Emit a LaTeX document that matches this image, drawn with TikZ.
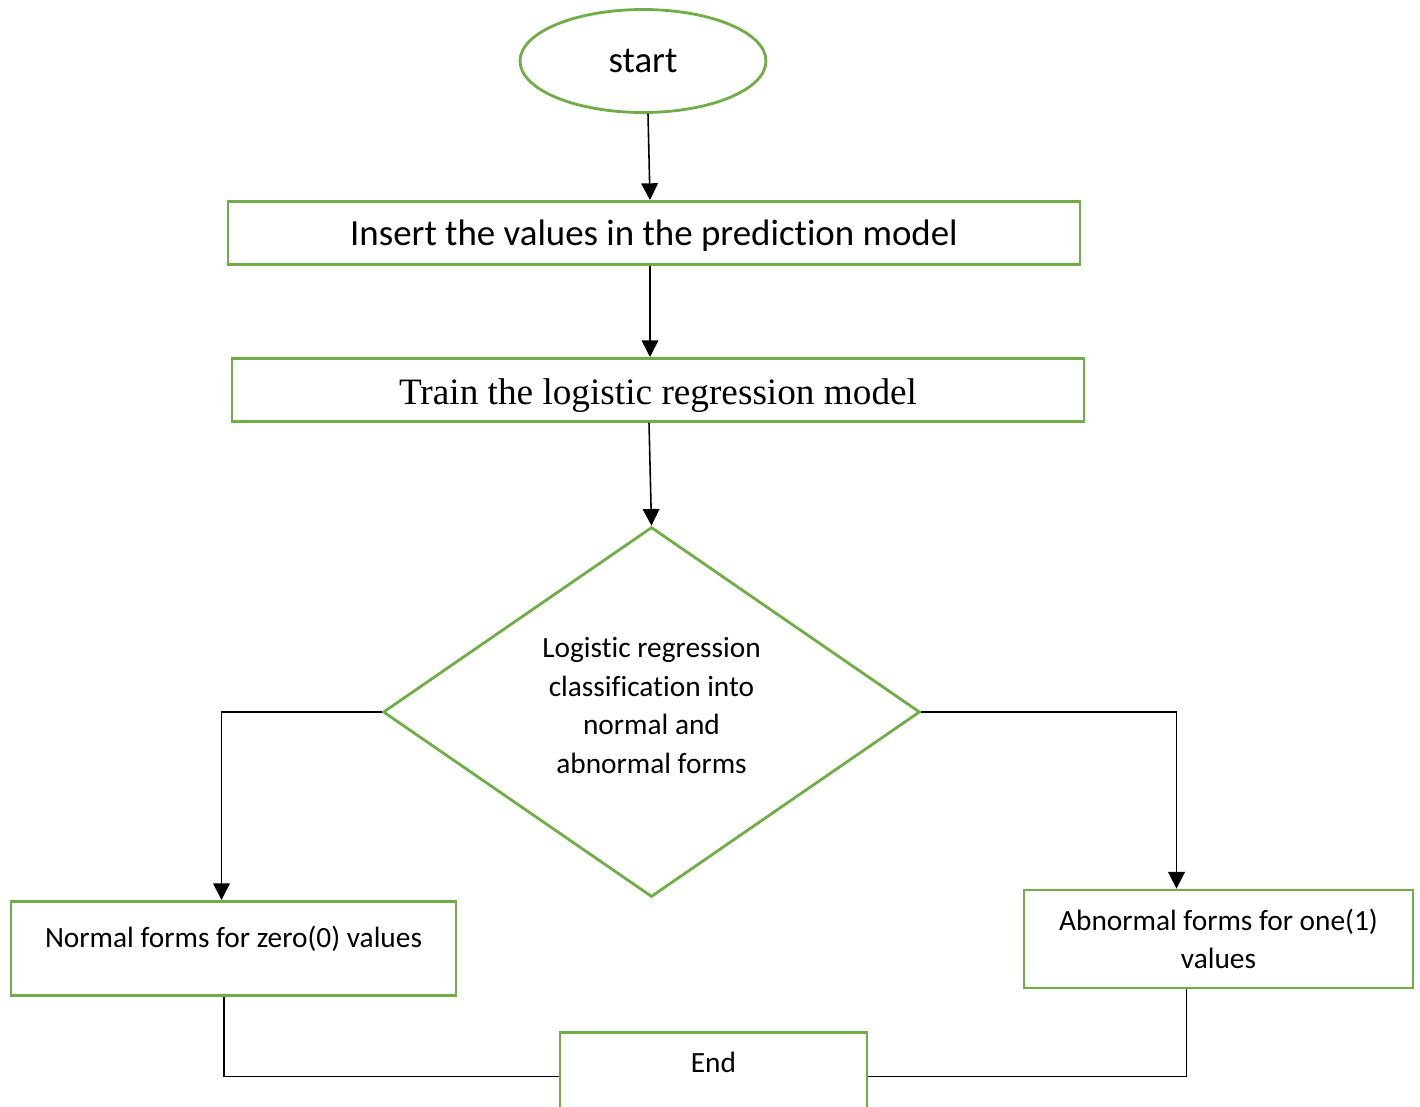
\documentclass[tikz,border=0pt]{standalone}
\usepackage{fontspec}
\setmainfont[Ligatures=NoCommon]{Carlito}
\newfontfamily\timesfont{Liberation Serif}
\usetikzlibrary{shapes.geometric,arrows.meta,calc}
\definecolor{flowgreen}{RGB}{112,173,71}

\begin{document}
\begin{tikzpicture}[x=0.02cm,y=-0.02cm,
  box/.style={draw=flowgreen,line width=1.6pt,inner sep=0pt,align=center},
  big/.style={font=\fontsize{21}{25}\selectfont},
  small/.style={font=\fontsize{16.7}{21.9}\selectfont},
  arr/.style={-{Triangle[width=9.5pt,length=9.5pt]},line width=0.9pt},
  con/.style={line width=0.9pt}]
	\clip (0,0) rectangle (1420,1106);

	\node[box,big,ellipse,minimum width=4.92cm,minimum height=2.06cm] (start) at (643,61) {start};
	\node[box,big,anchor=north,minimum width=17.04cm,text height=0.88cm,text depth=0.38cm] (ins) at (654,200) {Insert the values in the prediction model};
	\node[box,font=\timesfont\fontsize{21.2}{25}\selectfont,anchor=north,minimum width=17.04cm,text height=0.92cm,text depth=0.34cm] (trn) at (658,357) {Train the logistic regression model};
	\node[box,small,diamond,minimum width=10.74cm,minimum height=7.4cm,text height=2.68cm,text depth=0.24cm] (dia) at (651.5,712) {\begin{tabular}[b]{@{}c@{}}Logistic regression\\classification into\\normal and\\abnormal forms\end{tabular}};
	\node[box,small,anchor=north,minimum width=8.9cm,text height=0.92cm,text depth=0.96cm] (nrm) at (233.5,900) {Normal forms for zero(0) values};
	\node[box,small,minimum width=7.78cm,minimum height=1.96cm] (abn) at (1218.5,939) {Abnormal forms for one(1)\\values};
	\node[box,small,anchor=north,minimum width=6.14cm,text height=0.8cm,text depth=0.96cm] (endb) at (713.5,1031) {End};

	\draw[arr] ([shift={(5,0)}]start.south) -- ([shift={(-4,0)}]ins.north);
	\draw[arr] ([shift={(-4,0)}]ins.south) -- ([shift={(-8,0)}]trn.north);
	\draw[arr] ([shift={(-9,0)}]trn.south) -- (dia.north);
	\draw[arr] (dia.west) -| ([shift={(-12,0)}]nrm.north);
	\draw[arr] (dia.east) -| ([shift={(-42,0)}]abn.north);
	\draw[con] ([shift={(-9.5,0)}]nrm.south) |- (endb.west);
	\draw[con] ([shift={(-32,0)}]abn.south) |- (endb.east);
\end{tikzpicture}
\end{document}
